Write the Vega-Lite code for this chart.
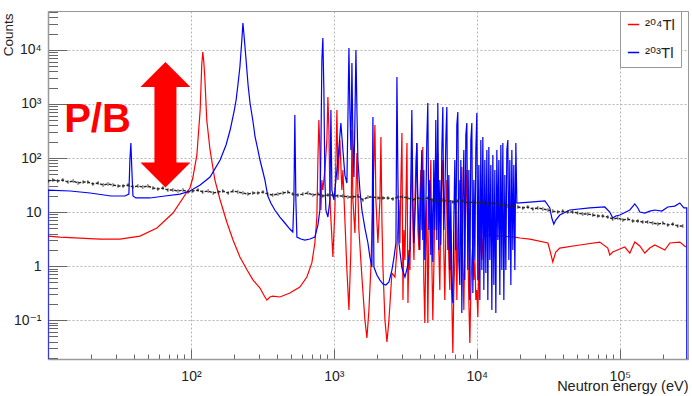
{
  "$schema": "https://vega.github.io/schema/vega-lite/v6.json",
  "width": 640,
  "height": 348,
  "autosize": {"type": "none"},
  "padding": {"left": 48, "top": 11, "right": 4, "bottom": 37},
  "background": "white",
  "config": {
    "view": {"stroke": "#999", "strokeWidth": 1},
    "font": "Liberation Sans, DejaVu Sans, sans-serif",
    "axis": {"labelFont": "Liberation Sans, DejaVu Sans, sans-serif", "titleFont": "Liberation Sans, DejaVu Sans, sans-serif", "labelColor": "#222", "titleColor": "#222", "titleFontWeight": "normal", "domainColor": "#999", "tickColor": "#666"}
  },
  "datasets": {
    "red": [
      {"E":10,"C":3.59},{"E":12.1,"C":3.44},{"E":16.7,"C":3.3},{"E":23.1,"C":3.16},{"E":31.9,"C":3.16},{"E":44,"C":3.59},{"E":57.8,"C":5.05},{"E":74.9,"C":9.58},{"E":93.8,"C":23.5},{"E":98.4,"C":27.8},{"E":103,"C":42.6},{"E":110,"C":114},{"E":116,"C":774},{"E":119,"C":5270},{"E":121,"C":9180},{"E":123,"C":5990},{"E":125,"C":3162},{"E":129,"C":506},{"E":136,"C":141},{"E":147,"C":39.2},{"E":160,"C":16.7},{"E":179,"C":6.26},{"E":197,"C":3.03},{"E":220,"C":1.47},{"E":247,"C":0.843},{"E":272,"C":0.55},{"E":304,"C":0.391},{"E":329,"C":0.267},{"E":340,"C":0.235},{"E":357,"C":0.267},{"E":374,"C":0.278},{"E":419,"C":0.267},{"E":492,"C":0.316},{"E":578,"C":0.408},{"E":647,"C":0.626},{"E":701,"C":1.14},{"E":736,"C":2.67},{"E":760,"C":8.08},{"E":773,"C":91.8},{"E":785,"C":506},{"E":798,"C":141},{"E":811,"C":10.9},{"E":824,"C":39.2},{"E":837,"C":25.5},{"E":865,"C":59.9},{"E":893,"C":215},{"E":908,"C":1348},{"E":923,"C":330},{"E":938,"C":16.7},{"E":984,"C":1.47},{"E":1016,"C":10.9},{"E":1050,"C":774},{"E":1067,"C":39.2},{"E":1101,"C":215},{"E":1137,"C":25.5},{"E":1156,"C":59.9},{"E":1194,"C":7.11},{"E":1233,"C":0.843},{"E":1274,"C":0.153},{"E":1315,"C":1.98},{"E":1337,"C":330},{"E":1358,"C":16.7},{"E":1403,"C":4.08},{"E":1449,"C":124},{"E":1496,"C":4.64},{"E":1570,"C":0.626},{"E":1648,"C":0.1},{"E":1702,"C":0.0464},{"E":1758,"C":0.153},{"E":1815,"C":0.958},{"E":1875,"C":16.7},{"E":1936,"C":408},{"E":1967,"C":16.7},{"E":2032,"C":2.67},{"E":2099,"C":16.7},{"E":2133,"C":245},{"E":2167,"C":7.11},{"E":2203,"C":0.958},{"E":2275,"C":0.1},{"E":2350,"C":0.0392},{"E":2427,"C":0.1},{"E":2546,"C":0.742},{"E":2673,"C":0.626},{"E":2760,"C":1.98},{"E":2851,"C":16.7},
      {"E":2897,"C":2.67},{"E":2944,"C":39.2},{"E":2992,"C":290},{"E":3041,"C":0.235},{"E":3090,"C":4.64},{"E":3141,"C":1.29},{"E":3192,"C":16.7},{"E":3244,"C":190},{"E":3296,"C":0.206},{"E":3350,"C":1.98},{"E":3404,"C":0.843},{"E":3459,"C":16.7},{"E":3516,"C":141},{"E":3573,"C":4.64},{"E":3631,"C":1.29},{"E":3690,"C":16.7},{"E":3750,"C":91.8},{"E":3811,"C":190},{"E":3873,"C":4.64},{"E":3935,"C":1.98},
      {"E":3990,"C":16.7},{"E":4055,"C":59.9},{"E":4121,"C":4.64},{"E":4188,"C":160},{"E":4256,"C":0.55},{"E":4325,"C":0.088},{"E":4395,"C":1.98},{"E":4467,"C":16.7},{"E":4539,"C":0.088},{"E":4613,"C":3.03},{"E":4688,"C":16.7},{"E":4764,"C":91.8},{"E":4841,"C":1.29},{"E":4920,"C":0.1},{"E":5000,"C":0.843},{"E":5082,"C":10.9},{"E":5164,"C":59.9},{"E":5248,"C":4.64},{"E":5333,"C":124},{"E":5420,"C":1.98},{"E":5508,"C":0.359},{"E":5598,"C":10.9},{"E":5689,"C":39.2},{"E":5781,"C":91.8},{"E":5875,"C":1.98},{"E":5970,"C":0.235},{"E":6067,"C":4.64},{"E":6166,"C":39.2},{"E":6266,"C":10.9},{"E":6368,"C":1.29},{"E":6471,"C":0.359},{"E":6576,"C":4.64},{"E":6683,"C":0.235},{"E":6792,"C":0.0245},{"E":6902,"C":0.359},{"E":7015,"C":1.29},{"E":7129,"C":16.7},{"E":7244,"C":0.235},{"E":7362,"C":4.64},{"E":7482,"C":16.7},{"E":7603,"C":39.2},{"E":7727,"C":4.64},{"E":7852,"C":68.1},{"E":7980,"C":1.29},{"E":8110,"C":0.153},{"E":8241,"C":3.03},{"E":8375,"C":16.7},{"E":8511,"C":59.9},{"E":8650,"C":1.98},{"E":8790,"C":0.235},{"E":8933,"C":0.0375},{"E":9078,"C":0.359},{"E":9226,"C":1.29},{"E":9376,"C":2.67},{"E":9528,"C":0.55},{"E":9683,"C":1.29},{"E":9840,"C":0.235},{"E":10000,"C":0.359},{"E":10162,"C":0.114},{"E":10327,"C":1.29},{"E":10495,"C":5.27},{"E":10665,"C":1.98},{"E":10838,"C":1.29},{"E":11014,"C":3.03},{"E":11193,"C":3.59},{"E":11375,"C":3.59},
      {"E":12330,"C":3.75},{"E":14490,"C":3.59},{"E":18440,"C":3.44},{"E":20000,"C":3.3},{"E":23500,"C":3.16},{"E":31410,"C":2.67},{"E":32390,"C":1.98},{"E":33990,"C":1.19},{"E":35650,"C":1.82},{"E":38020,"C":2.15},{"E":52480,"C":2.45},{"E":72440,"C":2.78},{"E":82410,"C":2.15},{"E":85110,"C":1.6},{"E":89330,"C":1.82},{"E":100000,"C":2.07},{"E":108400,"C":2.25},{"E":117500,"C":1.74},{"E":127400,"C":2.78},{"E":138000,"C":2.35},{"E":149600,"C":1.74},{"E":162200,"C":2.15},{"E":175800,"C":2.45},{"E":206500,"C":1.98},{"E":223900,"C":2.67},{"E":263000,"C":2.78},{"E":289700,"C":2.25}
    ],
    "blue": [
      {"E":10,"C":0.001},{"E":10.01,"C":25.5},{"E":14.3,"C":24.5},{"E":19.7,"C":22.5},{"E":27.6,"C":19.8},{"E":34.5,"C":19.8},{"E":36.8,"C":21.5},{"E":37.4,"C":91.8},{"E":38,"C":190},{"E":38.6,"C":59.9},{"E":39.3,"C":19.8},{"E":41.2,"C":18.2},{"E":51.6,"C":18.2},{"E":65.8,"C":19.8},{"E":83.8,"C":21.5},{"E":98.4,"C":24.5},{"E":116,"C":31.6},{"E":136,"C":44.5},{"E":160,"C":91.8},{"E":176,"C":174},{"E":188,"C":330},{"E":200,"C":711},{"E":207,"C":1186},{"E":213,"C":2249},{"E":220,"C":4840},{"E":227,"C":15310},{"E":231,"C":31623},{"E":235,"C":18960},{"E":243,"C":6530},{"E":251,"C":2249},{"E":259,"C":1044},{"E":272,"C":464},{"E":281,"C":245},{"E":294,"C":141},{"E":304,"C":91.8},{"E":319,"C":55.1},{"E":329,"C":39.2},{"E":345,"C":19.8},{"E":362,"C":14.7},{"E":386,"C":10.9},{"E":419,"C":8.08},{"E":454,"C":6.26},{"E":492,"C":4.84},{"E":516,"C":4.26},{"E":525,"C":16.7},{"E":533,"C":626},{"E":542,"C":16.7},{"E":551,"C":3.44},{"E":587,"C":3.16},{"E":627,"C":3.03},{"E":679,"C":3.16},{"E":736,"C":3.44},{"E":773,"C":5.74},{"E":798,"C":10.9},{"E":811,"C":141},{"E":824,"C":6530},{"E":837,"C":16680},{"E":851,"C":1816},{"E":865,"C":39.2},{"E":879,"C":10.9},{"E":908,"C":8.08},{"E":938,"C":16.7},{"E":953,"C":774},{"E":968,"C":25.5},{"E":1000,"C":16.7},{"E":1033,"C":39.2},{"E":1067,"C":91.8},{"E":1119,"C":445},{"E":1156,"C":141},{"E":1194,"C":48.4},{"E":1233,"C":34.4},{"E":1253,"C":506},{"E":1274,"C":10890},{"E":1294,"C":774},{"E":1315,"C":141},{"E":1337,"C":5740},{"E":1358,"C":215},{"E":1380,"C":44.5},{"E":1403,"C":506},{"E":1426,"C":10000},{"E":1449,"C":774},{"E":1472,"C":91.8},{"E":1520,"C":25.5},{"E":1570,"C":10.9},{"E":1648,"C":5.05},{"E":1730,"C":2.67},{"E":1786,"C":1.47},{"E":1845,"C":0.958},{"E":1875,"C":575},{"E":1905,"C":0.958},{"E":1999,"C":0.681},{"E":2099,"C":0.55},{"E":2203,"C":0.464},{"E":2312,"C":0.445},{"E":2427,"C":0.506},{"E":2546,"C":0.843},{"E":2630,"C":1.41},{"E":2716,"C":2.67},{"E":2760,"C":3162},{"E":2805,"C":39.2},{"E":2851,"C":2.67},{"E":2992,"C":0.918},{"E":3141,"C":0.626},{"E":3291,"C":1.04},{"E":3399,"C":1.98},{"E":3454,"C":39.2},{"E":3510,"C":774},{"E":3567,"C":16.7},{"E":3625,"C":2.67},{"E":3744,"C":25.5},{"E":3802,"C":190},{"E":3864,"C":16.7},
      {"E":3990,"C":1.98},{"E":4055,"C":25.5},{"E":4121,"C":141},{"E":4188,"C":3.03},{"E":4256,"C":59.9},{"E":4325,"C":1.29},{"E":4395,"C":10.9},{"E":4467,"C":215},{"E":4539,"C":1044},{"E":4613,"C":4.64},{"E":4688,"C":39.2},{"E":4764,"C":1.6},{"E":4841,"C":16.7},{"E":4920,"C":1.19},{"E":5000,"C":91.8},{"E":5082,"C":4.64},{"E":5164,"C":506},{"E":5248,"C":3.03},{"E":5333,"C":1044},{"E":5420,"C":1.98},{"E":5508,"C":39.2},{"E":5598,"C":2.45},{"E":5689,"C":141},{"E":5781,"C":880},{"E":5875,"C":4.64},{"E":5970,"C":16.7},{"E":6067,"C":215},{"E":6166,"C":880},{"E":6266,"C":1.98},{"E":6368,"C":48.4},{"E":6471,"C":0.843},{"E":6576,"C":16.7},{"E":6683,"C":0.359},{"E":6792,"C":0.206},{"E":6902,"C":7.11},{"E":7015,"C":91.8},{"E":7129,"C":1.98},{"E":7244,"C":408},{"E":7362,"C":711},{"E":7482,"C":1.29},{"E":7603,"C":0.445},{"E":7727,"C":91.8},{"E":7852,"C":0.135},{"E":7980,"C":16.7},{"E":8110,"C":141},{"E":8241,"C":0.55},{"E":8375,"C":267},{"E":8511,"C":445},{"E":8650,"C":0.843},{"E":8790,"C":59.9},{"E":8933,"C":0.235},{"E":9078,"C":215},{"E":9226,"C":445},{"E":9376,"C":0.316},{"E":9528,"C":39.2},{"E":9683,"C":1.29},{"E":9840,"C":141},{"E":10000,"C":681},{"E":10162,"C":0.55},{"E":10327,"C":74.2},{"E":10495,"C":0.235},{"E":10665,"C":215},{"E":10838,"C":0.843},{"E":11014,"C":245},{"E":11193,"C":0.359},{"E":11375,"C":91.8},{"E":11560,"C":0.742},{"E":11748,"C":141},{"E":11938,"C":0.235},{"E":12132,"C":160},{"E":12329,"C":1.29},{"E":12529,"C":74.2},{"E":12733,"C":0.153},{"E":12940,"C":114},{"E":13150,"C":0.445},{"E":13363,"C":59.9},{"E":13580,"C":0.135},{"E":13801,"C":141},{"E":14025,"C":3.03},{"E":14253,"C":91.8},{"E":14484,"C":0.29},{"E":14719,"C":174},{"E":14958,"C":0.843},{"E":15201,"C":190},{"E":15448,"C":0.235},{"E":15699,"C":48.4},{"E":15954,"C":0.843},{"E":16213,"C":141},{"E":16476,"C":215},{"E":16744,"C":1.29},{"E":17015,"C":91.8},{"E":17292,"C":0.445},{"E":17573,"C":141},{"E":17858,"C":1.98},{"E":18148,"C":74.2},{"E":18443,"C":0.843},{"E":18742,"C":190},
      {"E":19050,"C":14.7},{"E":23500,"C":15.3},{"E":29920,"C":16},{"E":32390,"C":11.9},{"E":33450,"C":7.74},{"E":34540,"C":5.99},{"E":35650,"C":7.11},{"E":38020,"C":8.8},{"E":44670,"C":10.9},{"E":61660,"C":11.9},{"E":78520,"C":12.4},{"E":85110,"C":10},{"E":89330,"C":7.74},{"E":93760,"C":8.43},{"E":100000,"C":8.8},{"E":117500,"C":10.9},{"E":127400,"C":14.1},{"E":133700,"C":11.9},{"E":138000,"C":10},{"E":149600,"C":9.58},{"E":162200,"C":10.4},{"E":175800,"C":10.9},{"E":196800,"C":10.4},{"E":216800,"C":12.4},{"E":242700,"C":12.9},{"E":263000,"C":14.7},{"E":280500,"C":11.9},{"E":294000,"C":11.9},{"E":294400,"C":0.001}
    ],
    "bg": [
      {"E":10,"C":37.5},{"E":10.8,"C":39.2},{"E":11.7,"C":37.5},{"E":12.7,"C":39.2},{"E":13.8,"C":35.9},{"E":15,"C":37.5},{"E":16.2,"C":34.4},{"E":17.6,"C":35.9},{"E":19,"C":35.9},{"E":20.6,"C":33},{"E":22.4,"C":34.4},{"E":24.3,"C":31.6},{"E":26.3,"C":33},{"E":28.5,"C":31.6},{"E":30.9,"C":30.3},{"E":33.5,"C":30.3},{"E":36.3,"C":31.6},{"E":39.3,"C":29},{"E":42.6,"C":30.3},{"E":46.1,"C":29},{"E":50,"C":30.3},{"E":54.2,"C":27.8},{"E":58.7,"C":26.7},{"E":63.7,"C":27.8},{"E":69,"C":25.5},{"E":74.8,"C":25.5},{"E":81.1,"C":24.5},{"E":87.9,"C":25.5},{"E":95.3,"C":23.5},{"E":103,"C":24.5},{"E":112,"C":25.5},{"E":121,"C":23.5},{"E":132,"C":24.5},{"E":143,"C":22.5},{"E":155,"C":23.5},{"E":167,"C":24.5},{"E":182,"C":22.5},{"E":197,"C":24.5},{"E":213,"C":23.5},{"E":231,"C":22.5},{"E":250,"C":21.5},{"E":271,"C":22.5},{"E":294,"C":22.5},{"E":319,"C":23.5},{"E":345,"C":21.5},{"E":374,"C":20.6},{"E":406,"C":21.5},{"E":440,"C":22.5},{"E":476,"C":23.5},{"E":516,"C":21.5},{"E":560,"C":20.6},{"E":607,"C":21.5},{"E":658,"C":22.5},{"E":713,"C":20.6},{"E":773,"C":21.5},{"E":837,"C":19.8},{"E":908,"C":20.6},{"E":984,"C":20.6},{"E":1067,"C":19.8},{"E":1156,"C":19.8},{"E":1253,"C":19},{"E":1358,"C":19},{"E":1472,"C":19.8},{"E":1596,"C":16.7},{"E":1730,"C":19},{"E":1875,"C":19},{"E":2032,"C":18.2},{"E":2203,"C":18.2},{"E":2388,"C":18.2},{"E":2588,"C":17.4},{"E":2805,"C":19},{"E":3041,"C":19},{"E":3291,"C":18.2},{"E":3567,"C":16.7},{"E":3864,"C":18.2},{"E":4188,"C":17.4},{"E":4539,"C":18.2},{"E":4920,"C":16.7},{"E":5333,"C":16},{"E":5781,"C":16.7},{"E":6266,"C":16},{"E":6792,"C":15.3},{"E":7362,"C":16},{"E":7980,"C":16},{"E":8650,"C":14.7},{"E":9376,"C":15.3},{"E":10160,"C":14.7},{"E":11020,"C":15.3},{"E":11940,"C":14.1},{"E":12940,"C":14.7},{"E":14030,"C":14.1},{"E":15200,"C":13.5},{"E":16480,"C":12.9},{"E":17860,"C":12.9},{"E":19360,"C":12.4},{"E":20990,"C":11.9},{"E":22750,"C":12.4},{"E":24660,"C":11.4},{"E":26730,"C":11.9},{"E":28970,"C":11.4},{"E":31410,"C":10.9},{"E":33990,"C":10.4},{"E":36810,"C":10},{"E":39900,"C":10.4},{"E":43250,"C":10},{"E":46880,"C":10},{"E":50800,"C":9.58},{"E":55080,"C":9.18},{"E":59700,"C":9.18},{"E":64710,"C":8.8},{"E":70150,"C":8.43},{"E":76030,"C":8.43},{"E":82410,"C":8.08},{"E":89330,"C":7.42},{"E":96830,"C":7.74},{"E":104950,"C":7.11},{"E":113800,"C":7.42},{"E":123300,"C":6.81},{"E":133700,"C":6.81},{"E":144900,"C":6.53},{"E":157000,"C":6.53},{"E":170200,"C":6.26},{"E":184500,"C":5.99},{"E":200000,"C":6.26},{"E":216800,"C":5.74},{"E":235000,"C":5.99},{"E":254700,"C":5.51},{"E":276100,"C":5.51}
    ],
    "arrow": [{"E":66.3,"top":3516,"bottom":48.4,"shaftTop":2780,"shaftBottom":59.9}],
    "pb": [{"E":22.2,"C":307,"label":"P/B"}]
  },
  "layer": [
    {
      "data": {"name": "red"},
      "mark": {"type": "line", "strokeWidth": 1.2, "clip": true},
      "encoding": {
        "x": {"field": "E", "type": "quantitative", "scale": {"type": "log", "domain": [10, 300000], "nice": false},
          "axis": {"orient": "bottom", "values": [20,30,40,50,60,70,80,90,200,300,400,500,600,700,800,900,2000,3000,4000,5000,6000,7000,8000,9000,20000,30000,40000,50000,60000,70000,80000,90000,200000], "labels": false, "domain": false, "grid": false, "tickSize": -5, "title": null}},
        "y": {"field": "C", "type": "quantitative", "scale": {"type": "log", "domain": [0.019, 52700], "nice": false},
          "axis": {"orient": "left", "values": [0.02,0.03,0.04,0.05,0.06,0.07,0.08,0.09,0.2,0.3,0.4,0.5,0.6,0.7,0.8,0.9,2,3,4,5,6,7,8,9,20,30,40,50,60,70,80,90,200,300,400,500,600,700,800,900,2000,3000,4000,5000,6000,7000,8000,9000,20000,30000,40000,50000], "labels": false, "domain": false, "grid": false, "tickSize": -9.5, "title": null}},
        "color": {"datum": "²⁰⁴Tl", "type": "nominal",
          "scale": {"domain": ["²⁰⁴Tl", "²⁰³Tl"], "range": ["#ff0000", "#0000ff"]},
          "legend": {"orient": "none", "legendX": 572, "legendY": 0, "title": null, "symbolType": "stroke", "symbolStrokeWidth": 1.5, "symbolSize": 130, "labelFontSize": 15, "labelFont": "Liberation Sans, DejaVu Sans, sans-serif", "labelColor": "#222", "strokeColor": "#999", "fillColor": "white", "padding": 6, "rowPadding": 12, "labelOffset": 4}}
      }
    },
    {
      "data": {"name": "blue"},
      "mark": {"type": "line", "strokeWidth": 1.2, "clip": true},
      "encoding": {
        "x": {"field": "E", "type": "quantitative", "scale": {"type": "log", "domain": [10, 300000], "nice": false}, "axis": null},
        "y": {"field": "C", "type": "quantitative", "scale": {"type": "log", "domain": [0.019, 52700], "nice": false}, "axis": null},
        "color": {"datum": "²⁰³Tl", "type": "nominal",
          "scale": {"domain": ["²⁰⁴Tl", "²⁰³Tl"], "range": ["#ff0000", "#0000ff"]},
          "legend": {"orient": "none", "legendX": 572, "legendY": 0, "title": null, "symbolType": "stroke", "symbolStrokeWidth": 1.5, "symbolSize": 130, "labelFontSize": 15, "labelFont": "Liberation Sans, DejaVu Sans, sans-serif", "labelColor": "#222", "strokeColor": "#999", "fillColor": "white", "padding": 6, "rowPadding": 12, "labelOffset": 4}}
      }
    },
    {
      "data": {"name": "bg"},
      "mark": {"type": "line", "color": "#222", "strokeWidth": 1.4, "strokeDash": [3, 1.5], "clip": true},
      "encoding": {
        "x": {"field": "E", "type": "quantitative", "scale": {"type": "log", "domain": [10, 300000], "nice": false},
          "axis": {"orient": "bottom", "values": [100, 1000, 10000, 100000], "labelExpr": "datum.value >= 99999 ? '10⁵' : datum.value >= 9999 ? '10⁴' : datum.value >= 999 ? '10³' : '10²'", "labelFontSize": 14, "grid": true, "gridDash": [2, 2], "gridColor": "#b5b5b5", "domain": true, "domainColor": "#999", "domainWidth": 1.5, "tickSize": -10, "labelPadding": 20, "labelFlush": false,
            "title": "Neutron energy (eV)", "titleFontSize": 14.5, "titleAnchor": "end", "titleAlign": "right", "titleX": 640, "titleY": 31, "titleBaseline": "alphabetic"}},
        "y": {"field": "C", "type": "quantitative", "scale": {"type": "log", "domain": [0.019, 52700], "nice": false},
          "axis": {"orient": "left", "values": [0.1, 1, 10, 100, 1000, 10000], "labelExpr": "datum.value >= 9999 ? '10⁴' : datum.value >= 999 ? '10³' : datum.value >= 99 ? '10²' : datum.value >= 9 ? '10' : datum.value >= 0.9 ? '1' : '10⁻¹'", "labelFontSize": 14, "grid": true, "gridDash": [2, 2], "gridColor": "#b5b5b5", "domain": true, "domainColor": "#999", "domainWidth": 1.5, "tickSize": -19, "labelPadding": 26, "labelFlush": false,
            "title": "Counts", "titleFontSize": 13.5, "titleAngle": -90, "titleAlign": "right", "titleBaseline": "top", "titleX": -47, "titleY": 2}}
      }
    },
    {
      "data": {"name": "bg"},
      "mark": {"type": "tick", "orient": "vertical", "color": "#222", "size": 4, "thickness": 1, "clip": true},
      "encoding": {
        "x": {"field": "E", "type": "quantitative", "scale": {"type": "log", "domain": [10, 300000], "nice": false}, "axis": null},
        "y": {"field": "C", "type": "quantitative", "scale": {"type": "log", "domain": [0.019, 52700], "nice": false}, "axis": null}
      }
    },
    {
      "data": {"name": "arrow"},
      "mark": {"type": "rule", "color": "#ff0000", "strokeWidth": 22},
      "encoding": {
        "x": {"field": "E", "type": "quantitative", "scale": {"type": "log", "domain": [10, 300000], "nice": false}, "axis": null},
        "y": {"field": "shaftTop", "type": "quantitative", "scale": {"type": "log", "domain": [0.019, 52700], "nice": false}, "axis": null},
        "y2": {"field": "shaftBottom"}
      }
    },
    {
      "data": {"name": "arrow"},
      "mark": {"type": "point", "shape": "M0,-0.5L1,0.5L-1,0.5Z", "size": 2500, "filled": true, "color": "#ff0000", "opacity": 1, "strokeWidth": 0},
      "encoding": {
        "x": {"field": "E", "type": "quantitative", "scale": {"type": "log", "domain": [10, 300000], "nice": false}, "axis": null},
        "y": {"field": "top", "type": "quantitative", "scale": {"type": "log", "domain": [0.019, 52700], "nice": false}, "axis": null}
      }
    },
    {
      "data": {"name": "arrow"},
      "mark": {"type": "point", "shape": "M0,0.5L1,-0.5L-1,-0.5Z", "size": 2500, "filled": true, "color": "#ff0000", "opacity": 1, "strokeWidth": 0},
      "encoding": {
        "x": {"field": "E", "type": "quantitative", "scale": {"type": "log", "domain": [10, 300000], "nice": false}, "axis": null},
        "y": {"field": "bottom", "type": "quantitative", "scale": {"type": "log", "domain": [0.019, 52700], "nice": false}, "axis": null}
      }
    },
    {
      "data": {"name": "pb"},
      "mark": {"type": "text", "color": "#ff0000", "fontSize": 40, "fontWeight": "bold", "font": "Liberation Sans, DejaVu Sans, sans-serif", "align": "center", "baseline": "alphabetic"},
      "encoding": {
        "x": {"field": "E", "type": "quantitative", "scale": {"type": "log", "domain": [10, 300000], "nice": false}, "axis": null},
        "y": {"field": "C", "type": "quantitative", "scale": {"type": "log", "domain": [0.019, 52700], "nice": false}, "axis": null},
        "text": {"field": "label"}
      }
    }
  ],
  "resolve": {"axis": {"x": "independent", "y": "independent"}}
}
